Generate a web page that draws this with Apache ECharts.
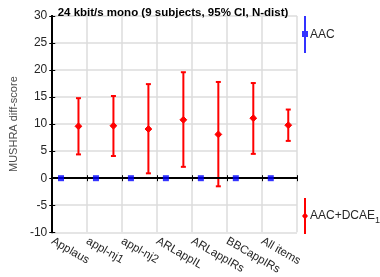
<!DOCTYPE html>
<html>
<head>
<meta charset="utf-8">
<script src="https://cdn.jsdelivr.net/npm/echarts@6/dist/echarts.min.js"></script>
<style>
  html, body { margin: 0; padding: 0; background: #fff; }
  #chart { width: 380px; height: 277px; }
</style>
</head>
<body>
<div id="chart"></div>
<script>
// items on the x axis
const items = ["Applaus", "appl-nj1", "appl-nj2", "ARLappIL", "ARLappIRs", "BBCappIRs", "All items"];
// reference codec (diff-score is zero by definition)
const aacMean = [0, 0, 0, 0, 0, 0, 0];
// AAC+DCAE10 diff-scores with 95% CI
const dcaeMean = [9.6, 9.7, 9.1, 10.8, 8.1, 11.1, 9.8];
const dcaeLow = [4.4, 4.1, 0.9, 2.1, -1.5, 4.5, 6.9];
const dcaeHigh = [14.8, 15.2, 17.4, 19.6, 17.8, 17.6, 12.7];
const yTicks = [-10, -5, 0, 5, 10, 15, 20, 25, 30];
const seriesNames = ["AAC", "AAC+DCAE10"];

const textColor = "#262626";
const gridColor = "#dcdcdc";

const chart = echarts.init(document.getElementById("chart"));

const aacData = aacMean.map((v, i) => [i + 0.25, v]);
const dcaeData = dcaeMean.map((v, i) => [i + 0.75, v, dcaeLow[i], dcaeHigh[i]]);

function renderErrorBar(params, api) {
  const x = api.value(0);
  const mid = api.coord([x, api.value(1)]);
  const lo = api.coord([x, api.value(2)]);
  const hi = api.coord([x, api.value(3)]);
  const cap = 2.5;
  const style = { stroke: "#ff0000", lineWidth: 2 };
  const d = 3.4;
  return {
    type: "group",
    children: [
      { type: "line", shape: { x1: lo[0], y1: lo[1], x2: hi[0], y2: hi[1] }, style },
      { type: "line", shape: { x1: hi[0] - cap, y1: hi[1], x2: hi[0] + cap, y2: hi[1] }, style },
      { type: "line", shape: { x1: lo[0] - cap, y1: lo[1], x2: lo[0] + cap, y2: lo[1] }, style },
      {
        type: "polygon",
        shape: { points: [[mid[0], mid[1] - d], [mid[0] + d, mid[1]], [mid[0], mid[1] + d], [mid[0] - d, mid[1]]] },
        style: { fill: "#ff0000", stroke: "#ff0000", lineWidth: 1 }
      }
    ]
  };
}

const option = {
  animation: false,
  title: {
    text: "24 kbit/s mono (9 subjects, 95% CI, N-dist)",
    left: 168,
    textAlign: "center",
    top: 2,
    textStyle: { fontFamily: "Liberation Sans", fontSize: 11.5, fontWeight: "bold", color: "#000" }
  },
  grid: { left: 43, top: 16, right: 83, bottom: 43, containLabel: false },
  legend: [
    {
      data: [seriesNames[0]],
      left: 302,
      top: 16,
      orient: "vertical",
      padding: 0,
      itemWidth: 6,
      itemHeight: 37,
      icon: "path://M2,0h2v37h-2z M0,15h6v6h-6z",
      textStyle: { fontFamily: "Liberation Sans", fontSize: 12, color: textColor, padding: [0, 0, 0, -3] }
    },
    {
      data: [seriesNames[1]],
      left: 302,
      top: 198,
      orient: "vertical",
      padding: 0,
      itemWidth: 6,
      itemHeight: 36,
      icon: "path://M2,0h2v36h-2z M3,14.5l3,3.5l-3,3.5l-3,-3.5z",
      formatter: () => "AAC+DCAE{sub|10}",
      textStyle: {
        fontFamily: "Liberation Sans", fontSize: 12, color: textColor, padding: [0, 0, 0, -3],
        rich: { sub: { fontFamily: "Liberation Sans", fontSize: 9, color: textColor, padding: [9, 0, 0, 0] } }
      }
    }
  ],
  xAxis: [
    {
      type: "value",
      min: 0,
      max: 7,
      interval: 1,
      axisLine: { lineStyle: { color: "#000", width: 2 } },
      axisTick: { inside: true, length: 3, lineStyle: { color: "#000" } },
      splitLine: { show: true, lineStyle: { color: gridColor, width: 1.5 } },
      axisLabel: {
        rotate: -30,
        margin: 8,
        fontFamily: "Liberation Sans",
        fontSize: 11.5,
        color: textColor,
        formatter: (v) => (v < items.length ? items[v] : "")
      }
    },
    {
      type: "value",
      position: "top",
      min: 0,
      max: 7,
      interval: 1,
      axisLine: { show: true, lineStyle: { color: "#000", width: 2 } },
      axisTick: { show: true, inside: true, length: 3, lineStyle: { color: "#000" } },
      axisLabel: { show: false },
      splitLine: { show: false }
    }
  ],
  yAxis: [
    {
      type: "value",
      min: yTicks[0],
      max: yTicks[yTicks.length - 1],
      interval: 5,
      name: "MUSHRA diff-score",
      nameLocation: "middle",
      nameGap: 27,
      nameTextStyle: { fontFamily: "Liberation Sans", fontSize: 11, color: "#4d4d4d" },
      axisLine: { show: true, lineStyle: { color: "#000", width: 2 } },
      axisTick: { show: true, inside: true, length: 3, lineStyle: { color: "#000" } },
      splitLine: { show: true, lineStyle: { color: gridColor, width: 1.5 } },
      axisLabel: { margin: 5, fontFamily: "Liberation Sans", fontSize: 12, color: textColor }
    },
    {
      type: "value",
      position: "right",
      min: yTicks[0],
      max: yTicks[yTicks.length - 1],
      interval: 5,
      axisLine: { show: true, lineStyle: { color: "#000", width: 2 } },
      axisTick: { show: true, inside: true, length: 3, lineStyle: { color: "#000" } },
      axisLabel: { show: false },
      splitLine: { show: false }
    }
  ],
  series: [
    {
      name: seriesNames[0],
      type: "scatter",
      data: aacData,
      symbol: "rect",
      symbolSize: 6,
      itemStyle: { color: "#0000ff" },
      z: 5,
      markLine: {
        silent: true,
        symbol: "none",
        label: { show: false },
        lineStyle: { color: "#000", width: 2, type: "solid" },
        data: [{ yAxis: 0 }]
      }
    },
    {
      name: seriesNames[1],
      type: "custom",
      data: dcaeData,
      itemStyle: { color: "#ff0000" },
      renderItem: renderErrorBar,
      encode: { x: 0, y: [1, 2, 3] },
      z: 4
    }
  ]
};

chart.setOption(option);
</script>
</body>
</html>
